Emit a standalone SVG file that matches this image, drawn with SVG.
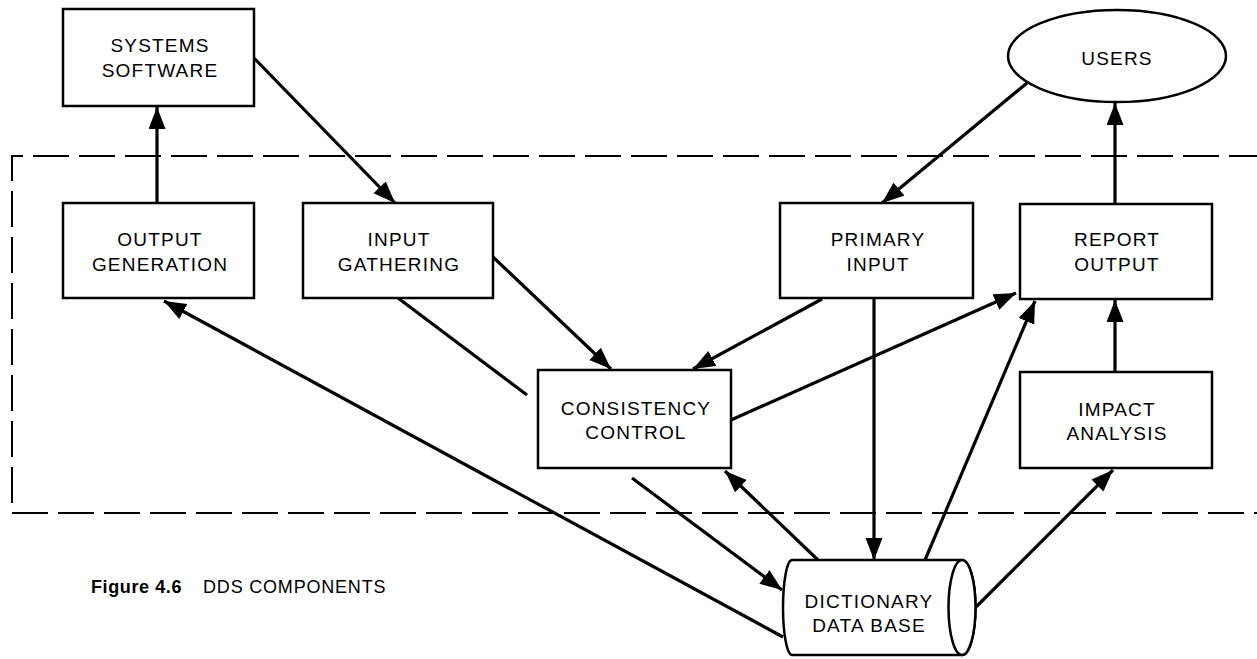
<svg xmlns="http://www.w3.org/2000/svg" width="1257" height="659" viewBox="0 0 1257 659">
  <style>
    .box { fill: #fff; stroke: #000; stroke-width: 2.5; }
    .lbl { font-family: "Liberation Sans", Arial, sans-serif; font-size: 19px; letter-spacing: 1.2px; fill: #000; text-anchor: middle; }
    .edge { fill: none; stroke: #000; stroke-width: 3.2; }
    .arrow { marker-end: url(#head); }
    .boundary { fill: none; stroke: #000; stroke-width: 2; stroke-dasharray: 36 10; }
    .cap { font-family: "Liberation Sans", Arial, sans-serif; font-size: 18px; fill: #000; }
  </style>
  <defs>
    <marker id="head" markerUnits="userSpaceOnUse" markerWidth="26" markerHeight="20" refX="22" refY="8.5" orient="auto">
      <path d="M0,0 L22,8.5 L0,17 Z" fill="#000"/>
    </marker>
  </defs>

  <rect width="1257" height="659" fill="#fff"/>

  <!-- DDS boundary (open on the right) -->
  <path class="boundary" d="M1265,156 L12,156 L12,513 L1265,513"/>

  <g id="connectors">
    <path class="edge arrow" d="M157,204 L157,107"/>
    <path class="edge arrow" d="M254,58 L395,203"/>
    <path class="edge arrow" d="M1027,83 L882,203"/>
    <path class="edge arrow" d="M1115,204 L1115,103"/>
    <path class="edge arrow" d="M493,257 L611,369"/>
    <path class="edge arrow" d="M822,299 L693,369"/>
    <path class="edge arrow" d="M731,420 L1016,293"/>
    <path class="edge arrow" d="M874,298 L874,560"/>
    <path class="edge arrow" d="M925,560 L1035,301"/>
    <path class="edge arrow" d="M1115,372 L1115,300"/>
    <path class="edge arrow" d="M976,607 L1113,470"/>
    <path class="edge arrow" d="M818,560 L725,471"/>
    <path class="edge arrow" d="M632,478 L782,590"/>
    <path class="edge arrow" d="M783,637 L164,301"/>
    <path class="edge" d="M398,298 L527,395" stroke-width="2.5"/>
  </g>

  <g id="systems-software">
    <rect class="box" x="63" y="9" width="191" height="97"/>
    <text class="lbl" x="160" y="52">SYSTEMS</text>
    <text class="lbl" x="160" y="77">SOFTWARE</text>
  </g>

  <g id="users">
    <ellipse class="box" cx="1117" cy="56" rx="109" ry="46"/>
    <text class="lbl" x="1117" y="65">USERS</text>
  </g>

  <g id="output-generation">
    <rect class="box" x="63" y="203" width="191" height="95"/>
    <text class="lbl" x="160" y="246">OUTPUT</text>
    <text class="lbl" x="160" y="271">GENERATION</text>
  </g>

  <g id="input-gathering">
    <rect class="box" x="303" y="203" width="190" height="95"/>
    <text class="lbl" x="399" y="246">INPUT</text>
    <text class="lbl" x="399" y="271">GATHERING</text>
  </g>

  <g id="primary-input">
    <rect class="box" x="780" y="203" width="193" height="95"/>
    <text class="lbl" x="878" y="246">PRIMARY</text>
    <text class="lbl" x="878" y="271">INPUT</text>
  </g>

  <g id="report-output">
    <rect class="box" x="1020" y="204" width="192" height="95"/>
    <text class="lbl" x="1117" y="246">REPORT</text>
    <text class="lbl" x="1117" y="271">OUTPUT</text>
  </g>

  <g id="consistency-control">
    <rect class="box" x="538" y="370" width="193" height="98"/>
    <text class="lbl" x="636" y="415">CONSISTENCY</text>
    <text class="lbl" x="636" y="439">CONTROL</text>
  </g>

  <g id="impact-analysis">
    <rect class="box" x="1020" y="372" width="192" height="96"/>
    <text class="lbl" x="1117" y="416">IMPACT</text>
    <text class="lbl" x="1117" y="440">ANALYSIS</text>
  </g>

  <g id="dictionary-data-base">
    <path class="box" d="M792,560 L962,560 A13.5,47.5 0 0 1 962,655 L792,655 A9,47.5 0 0 1 792,560 Z"/>
    <ellipse class="box" cx="962" cy="607.5" rx="13.5" ry="47.5" fill="none"/>
    <text class="lbl" x="869" y="608">DICTIONARY</text>
    <text class="lbl" x="869" y="632">DATA BASE</text>
  </g>

  <g id="caption">
    <text class="cap" x="91" y="593"><tspan font-weight="bold" letter-spacing="0.6">Figure 4.6</tspan><tspan dx="21" letter-spacing="0.8">DDS COMPONENTS</tspan></text>
  </g>
</svg>
